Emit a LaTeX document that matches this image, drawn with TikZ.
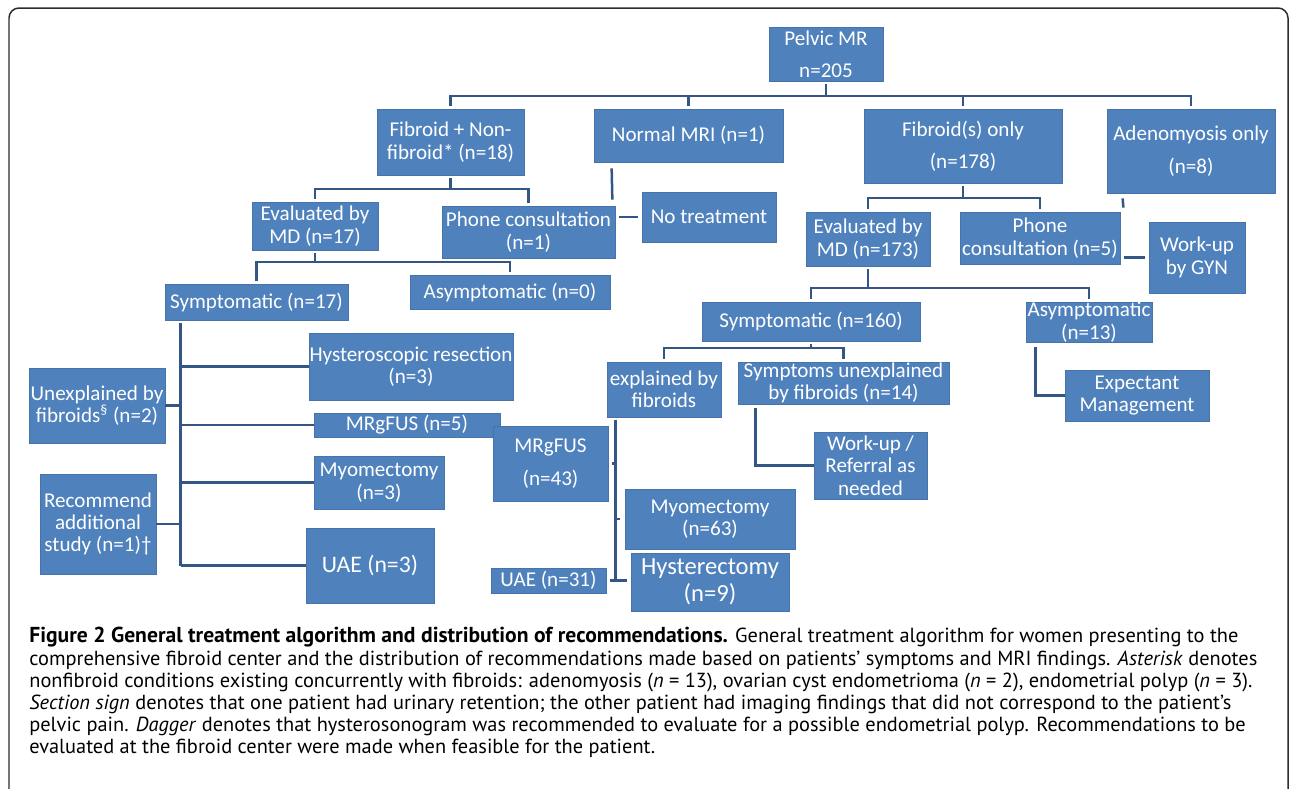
\documentclass[tikz,border=0pt]{standalone}
\usepackage{fontspec}
\setmainfont{Carlito}
\newfontfamily\capfont{PT Sans}
\usepackage{tikz}
\usetikzlibrary{calc, positioning}
\definecolor{boxblue}{RGB}{79, 129, 189}
\definecolor{boxedge}{RGB}{70, 115, 170}
\definecolor{linkblue}{RGB}{52, 86, 132}
\definecolor{framegray}{RGB}{45, 45, 45}

\begin{document}
\begin{tikzpicture}[
			x=0.02cm, y=-0.02cm,
			box/.style={rectangle, fill=boxblue, draw=boxedge, line width=0.4pt, text=white, align=center, inner sep=0pt, font=\fontsize{12}{12.75}\selectfont},
			airy/.style={font=\fontsize{12}{18.4}\selectfont},
			sz/.style 2 args={minimum width=#1*0.02cm, minimum height=#2*0.02cm},
			link/.style={draw=linkblue, line width=0.05cm},
			drop/.style={link, shorten >=0.06cm},
			stem/.style={link, shorten <=0.06cm},
			spaced/.style={link, shorten <=0.07cm, shorten >=0.07cm},
			caption/.style={anchor=north west, align=left, inner sep=0pt, font=\capfont\fontsize{11.6}{12.65}\selectfont}
		]
		\useasboundingbox (0,0) rectangle (1290,788);
		\clip (0,0) rectangle (1290,788);
		\draw[framegray, line width=0.03cm, rounded corners=0.2cm] (9,820) -- (9,8) -- (1288,8) -- (1288,820);
		
		% top level
		\node[box, sz={114}{54}, airy] (pelvic) at (826,54) {Pelvic MR\\n=205};
		\node[box, sz={147}{66}] (fibnon) at (450.5,142) {Fibroid + Non-\\fibroid* (n=18)};
		\node[box, sz={189}{53}] (normal) at (688.5,135.5) {Normal MRI (n=1)};
		\node[box, sz={198}{74}, airy] (fibonly) at (963,146) {Fibroid(s) only\\(n=178)};
		\node[box, sz={168}{84}, airy] (adeno) at (1191,151) {Adenomyosis only\\(n=8)};
		
		% second level
		\node[box, sz={126}{48}] (evalA) at (315,226) {Evaluated by\\MD (n=17)};
		\node[box, sz={173}{52}] (phoneA) at (528.5,232) {Phone consultation\\(n=1)};
		\node[box, sz={134}{50}] (notreat) at (709,217) {No treatment};
		\node[box, sz={124}{54}] (evalB) at (868,239) {Evaluated by\\MD (n=173)};
		\node[box, sz={160}{52}] (phoneB) at (1040,238) {Phone\\consultation (n=5)};
		\node[box, sz={96}{71}] (gyn) at (1197,257.5) {Work-up\\by GYN};
		
		% symptoms
		\node[box, sz={183}{36}] (sympA) at (256.5,302) {Symptomatic (n=17)};
		\node[box, sz={200}{34}] (asymA) at (510,292) {Asymptomatic (n=0)};
		\node[box, sz={218}{39}] (sympB) at (811,321.5) {Symptomatic (n=160)};
		\node[box, sz={126}{40}] (asymB) at (1089,322) {Asymptomatic\\(n=13)};
		
		% left branch outcomes
		\node[box, sz={204}{67}] (hystres) at (411,366.5) {Hysteroscopic resection\\(n=3)};
		\node[box, sz={136}{75}] (unexpl) at (97,405.5) {Unexplained by\\fibroids\textsuperscript{§} (n=2)};
		\node[box, sz={186}{24}] (mrgA) at (407,425) {MRgFUS (n=5)};
		\node[box, sz={130}{53}] (myoA) at (379,482.5) {Myomectomy\\(n=3)};
		\node[box, sz={116}{100}] (recom) at (98,524) {Recommend\\additional\\study (n=1)†};
		\node[box, sz={128}{75}, font=\fontsize{13.5}{16}\selectfont] (uaeA) at (370,565.5) {UAE (n=3)};
		
		% right branch outcomes
		\node[box, sz={114}{55}] (explained) at (664,389.5) {explained by\\fibroids};
		\node[box, sz={211}{42}] (unexplB) at (843.5,383) {Symptoms unexplained\\by fibroids (n=14)};
		\node[box, sz={113}{67}] (workup) at (870.5,465.5) {Work-up /\\Referral as\\needed};
		\node[box, sz={144}{51}] (expect) at (1137,395.5) {Expectant\\Management};
		\node[box, sz={115}{75}, airy] (mrgB) at (550.5,463.5) {MRgFUS\\(n=43)};
		\node[box, sz={170}{60}] (myoB) at (710,519) {Myomectomy\\(n=63)};
		\node[box, sz={158}{58}, font=\fontsize{14}{15.2}\selectfont] (hysterect) at (710,582) {Hysterectomy\\(n=9)};
		\node[box, sz={115}{25}] (uaeB) at (548.5,580.5) {UAE (n=31)};
		
		% bars and trunks
		\coordinate (topbar) at (826,96);
		\coordinate (fibnonbar) at (450.5,189);
		\coordinate (fibonlybar) at (963,198);
		\coordinate (evalAbar) at (315,262);
		\coordinate (evalBbar) at (868,288);
		\coordinate (sympBbar) at (811,348);
		\coordinate (trunkA) at ($(sympA.south west)+(16,0)$);
		\coordinate (trunkB) at ($(explained.south west)+(9,0)$);
		
		\draw[stem] (pelvic) -- (topbar);
		\draw[drop] (topbar) -| (fibnon);
		\draw[drop] (topbar) -| (normal);
		\draw[drop] (topbar) -| (fibonly);
		\draw[drop] (topbar) -| (adeno);
		
		\draw[stem] (fibnon) -- (fibnonbar);
		\draw[drop] (fibnonbar) -| (evalA);
		\draw[drop] (fibnonbar) -| (phoneA);
		\draw[link] ($(normal.south west)+(18,6)$) -- ($(phoneA.north east)+(-3,-6)$);
		\draw[spaced] (phoneA.east |- notreat.west) -- (notreat.west);
		
		\draw[stem] (fibonly) -- (fibonlybar);
		\draw[drop] (fibonlybar) -| (evalB);
		\draw[drop] (fibonlybar) -| (phoneB);
		\draw[link] ($(adeno.south west)+(16,5)$) -- ($(phoneB.north east)+(3,-4)$);
		\draw[spaced] (phoneB.east |- gyn.west) -- (gyn.west);
		
		\draw[stem] (evalA) -- (evalAbar);
		\draw[drop] (evalAbar) -| (sympA);
		\draw[drop] (evalAbar) -| (asymA);
		
		\draw[stem] (evalB) -- (evalBbar);
		\draw[drop] (evalBbar) -| (sympB);
		\draw[drop] (evalBbar) -| (asymB);
		
		\draw[stem] (sympB) -- (sympBbar);
		\draw[drop] (sympBbar) -| (explained);
		\draw[drop] (sympBbar) -| (unexplB);
		
		\draw[stem] (trunkA) -- (trunkA |- uaeA.west);
		\draw[link] (trunkA |- hystres.west) -- (hystres.west);
		\draw[link] (trunkA |- mrgA.west) -- (mrgA.west);
		\draw[link] (trunkA |- myoA.west) -- (myoA.west);
		\draw[link] (trunkA |- uaeA.west) -- (uaeA.west);
		\draw[link] (unexpl.east) -- (unexpl.east -| trunkA);
		\draw[link] (recom.east) -- (recom.east -| trunkA);
		
		\draw[stem] (trunkB) -- (trunkB |- uaeB.east);
		\draw[link] (trunkB |- mrgB.east) -- ++(-4,0);
		\draw[link] (trunkB |- myoB.west) -- ++(4,0);
		\draw[spaced] (uaeB.east) -- (uaeB.east -| hysterect.west);
		
		\draw[link] ($(unexplB.south west)+(18,4)$) |- (workup.west);
		\draw[link] ($(asymB.south west)+(10,5)$) |- (expect.west);
		
		% caption
		\node[caption] (legend) at (29,627) {{\fontsize{12.3}{12.65}\selectfont\bfseries Figure 2 General treatment algorithm and distribution of recommendations.} General treatment algorithm for women presenting to the\\
comprehensive fibroid center and the distribution of recommendations made based on patients’ symptoms and MRI findings. \textit{Asterisk} denotes\\
nonfibroid conditions existing concurrently with fibroids: adenomyosis (\textit{n} = 13), ovarian cyst endometrioma (\textit{n} = 2), endometrial polyp (\textit{n} = 3).\\
\textit{Section sign} denotes that one patient had urinary retention; the other patient had imaging findings that did not correspond to the patient’s\\
pelvic pain. \textit{Dagger} denotes that hysterosonogram was recommended to evaluate for a possible endometrial polyp. Recommendations to be\\
evaluated at the fibroid center were made when feasible for the patient.};
		\end{tikzpicture}
\end{document}
